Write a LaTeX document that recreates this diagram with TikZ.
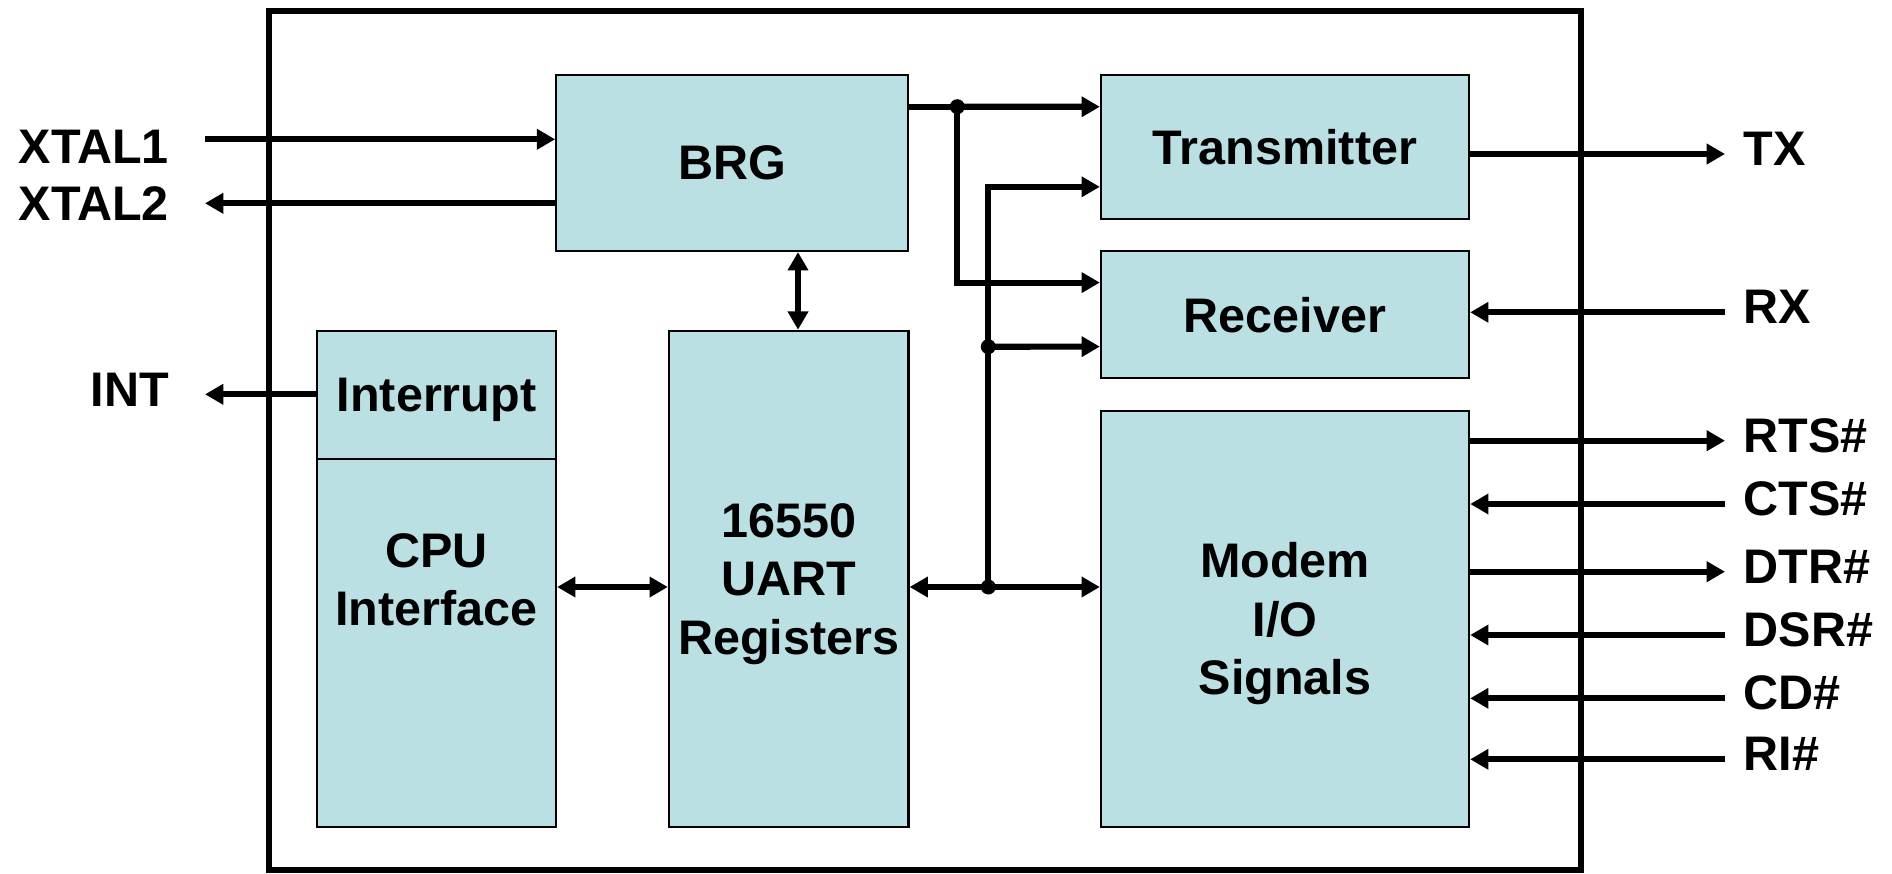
\documentclass[tikz,border=0pt]{standalone}
\usepackage{fontspec}
\setmainfont{Liberation Sans}
\usetikzlibrary{arrows.meta,positioning}
\definecolor{boxblue}{RGB}{187,224,227}
\newcommand{\lbl}{\fontsize{13.8}{16.6}\selectfont\bfseries}
\tikzset{
  blk/.style={draw=black, line width=0.6pt, fill=boxblue, inner sep=0pt, font=\lbl, align=center, text depth=0pt},
  wire/.style={line width=1.75pt},
  sig/.style={wire, -{Triangle[length=5.2pt,width=5.6pt]}},
  bsig/.style={wire, {Triangle[length=5.2pt,width=5.6pt]}-{Triangle[length=5.2pt,width=5.6pt]}},
  pin/.style={font=\lbl, inner sep=0pt, text height=9.9pt, text depth=0pt}
}

\begin{document}
\begin{tikzpicture}[x=0.01cm, y=-0.01cm, line join=miter]
    \useasboundingbox (0,0) rectangle (1892,873);
    % chip outline
    \draw[line width=1.75pt] (269,10.7) rectangle (1581,870);

    % blocks
    \node[blk, minimum width=3.52cm, minimum height=1.76cm] (brg) at (732.3,163) {BRG};
    \node[blk, minimum width=3.68cm, minimum height=1.435cm] (tx) at (1285,146.8) {Transmitter};
    \node[blk, minimum width=3.68cm, minimum height=1.275cm] (rx) at (1285,314.6) {Receiver};
    \node[blk, minimum width=3.68cm, minimum height=4.16cm] (modem) at (1285,618.7) {Modem\\I/O\\Signals};
    \node[blk, minimum width=2.395cm, minimum height=4.957cm] (uart) at (788.7,578.8) {16550\\UART\\Registers};
    \node[blk, minimum width=2.39cm, minimum height=1.277cm] (irq) at (436.5,394.8) {Interrupt};
    \node[blk, minimum width=2.39cm, minimum height=3.68cm] (cpu) at (436.5,642.7) {};
    \node[font=\lbl, align=center, inner sep=0pt, text depth=0pt] (cputxt) at (436.5,579.5) {CPU\\Interface};

    % junctions
    \coordinate (j1) at (957.3,106.7);
    \coordinate (j2) at (988.3,346.7);
    \coordinate (dbus) at (988.3,587);
    \coordinate (ctl) at (798,300);

    % internal buses
    \draw[wire] (brg.east |- j1) -- (j1);
    \draw[sig] (j1) -- ([yshift=4mm]tx.west);
    \draw[sig] (j1) |- ([yshift=3.2mm]rx.west);
    \draw[sig] (dbus) |- ([yshift=-4mm]tx.west);
    \draw[sig] (j2) -- ([yshift=-3.2mm]rx.west);
    \draw[bsig] (brg.south -| ctl) -- (uart.north -| ctl);
    \draw[bsig] (cpu.east |- dbus) -- (uart.west |- dbus);
    \draw[bsig] (uart.east |- dbus) -- (modem.west |- dbus);
    \foreach \pt in {j1,j2,dbus}
        \fill (\pt) circle (0.75mm);

    % external pins, left
    \coordinate (xtal1) at (205,139.3);
    \coordinate (xtal2) at (205,203.3);
    \coordinate (int) at (205,394.3);
    \draw[sig] (xtal1) -- (xtal1 -| brg.west);
    \draw[sig] (xtal2 -| brg.west) -- (xtal2);
    \draw[sig] (int -| irq.west) -- (int);
    \node[pin, anchor=east] (xtal1-lbl) at (169.5,146.3) {XTAL1};
    \node[pin, anchor=east] (xtal2-lbl) at (169.5,203) {XTAL2};
    \node[pin, anchor=east] (int-lbl) at (169.5,389) {INT};

    % external pins, right
    \coordinate (txo) at (1725,154);
    \coordinate (rxi) at (1725,312.3);
    \draw[sig] (tx.east |- txo) -- (txo);
    \draw[sig] (rxi) -- (rxi -| rx.east);
    \node[pin, anchor=west] (tx-lbl) at (1743,148.5) {TX};
    \node[pin, anchor=west] (rx-lbl) at (1743,306) {RX};
    \foreach \sig/\y in {RTS/440.7, DTR/571.7}{
        \coordinate (\sig) at (1725,\y);
        \draw[sig] (modem.east |- \sig) -- (\sig);
        \node[pin, anchor=west] (\sig-lbl) at (1743,\y-6) {\sig\#};
    }
    \foreach \sig/\y in {CTS/504, DSR/635, CD/698.3, RI/759.3}{
        \coordinate (\sig) at (1725,\y);
        \draw[sig] (\sig) -- (modem.east |- \sig);
        \node[pin, anchor=west] (\sig-lbl) at (1743,\y-6) {\sig\#};
    }
\end{tikzpicture}
\end{document}
